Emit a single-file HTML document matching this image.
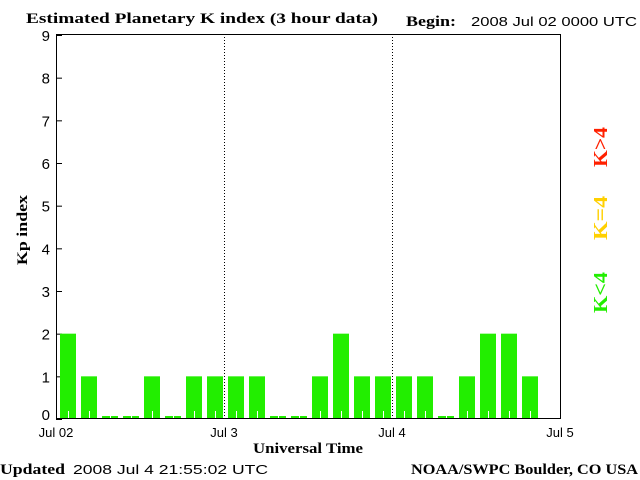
<!DOCTYPE html>
<html><head><meta charset="utf-8"><style>
body{margin:0;background:#fff;}
svg{display:block;}
.serif{font-family:"Liberation Serif",serif;font-weight:bold;}
.sans{font-family:"Liberation Sans",sans-serif;}
</style></head><body>
<svg id="chart" width="640" height="480" xmlns="http://www.w3.org/2000/svg">
<rect width="640" height="480" fill="#fff"/>
<text x="26" y="23" class="serif" font-size="15" textLength="352" lengthAdjust="spacingAndGlyphs">Estimated Planetary K index (3 hour data)</text>
<text x="406" y="26" class="serif" font-size="15" textLength="50" lengthAdjust="spacingAndGlyphs">Begin:</text>
<text x="471" y="26" class="sans" font-size="13" textLength="166" lengthAdjust="spacingAndGlyphs">2008 Jul 02 0000 UTC</text>
<text x="0" y="474" class="serif" font-size="15" textLength="65" lengthAdjust="spacingAndGlyphs">Updated</text>
<text x="73" y="474" class="sans" font-size="13" textLength="195" lengthAdjust="spacingAndGlyphs">2008 Jul  4 21:55:02 UTC</text>
<text x="411" y="474" class="serif" font-size="15" textLength="227" lengthAdjust="spacingAndGlyphs">NOAA/SWPC Boulder, CO USA</text>
<text x="253" y="453" class="serif" font-size="15" textLength="110" lengthAdjust="spacingAndGlyphs">Universal Time</text>
<text transform="translate(27,265) rotate(-90)" class="serif" font-size="15" textLength="70" lengthAdjust="spacingAndGlyphs">Kp index</text>
<text transform="translate(607,167) rotate(-90)" class="serif" font-size="20" fill="#ff2000" textLength="40" lengthAdjust="spacingAndGlyphs">K&gt;4</text>
<text transform="translate(607,240) rotate(-90)" class="serif" font-size="20" fill="#ffd000" textLength="44" lengthAdjust="spacingAndGlyphs">K=4</text>
<text transform="translate(607,313) rotate(-90)" class="serif" font-size="20" fill="#22ee00" textLength="41" lengthAdjust="spacingAndGlyphs">K&lt;4</text>
<g id="marks"></g>
<rect x="56.5" y="34.5" width="504" height="384" fill="none" stroke="#000" stroke-width="1"/>
</svg>
<script>
const kpValues=[2,1,0,0,1,0,1,1, 1,1,0,0,1,2,1,1, 1,1,0,1,2,2,1];
const yTicks=[0,1,2,3,4,5,6,7,8,9];
const dayLabels=["Jul 02","Jul 3","Jul 4","Jul 5"];
const L=56,R=560,T=34,B=419;
const xh=h=>L+(R-L)*h/72;
const y=v=>B-(B-T-1)*v/9;
const NS="http://www.w3.org/2000/svg";
const g=document.getElementById('marks');
function mk(t,a){const e=document.createElementNS(NS,t);for(const k in a)e.setAttribute(k,a[k]);g.appendChild(e);return e;}
yTicks.forEach(v=>{
 const l=mk('line',{x1:L,x2:L+6,y1:y(v)+0.5,y2:y(v)+0.5,stroke:'#000'});
 
 
 const t=mk('text',{x:50,y:y(v)+(v===0?1:6),'text-anchor':'end','font-size':15,'font-family':'Liberation Sans, sans-serif'});
 t.textContent=v;
 
 
});
dayLabels.forEach((d,i)=>{
 const x=xh(i*24);
 const t=mk('text',{x:x,y:437,'text-anchor':'middle','font-size':13,'font-family':'Liberation Sans, sans-serif'});
 t.textContent=d;
 
 
 if(i>0&&i<3){
  const l=mk('line',{x1:x+0.5,x2:x+0.5,y1:T,y2:B,stroke:'#000','stroke-dasharray':'1,2'});
  
  
 }
});
kpValues.forEach((v,i)=>{
 const x0=xh(i*3)+4, w=16;
 const top=v===0?B-3:y(v);
 const r=mk('rect',{x:x0,y:top,width:w,height:B-top,fill:'#22ee00'});
 
 
 const m=mk('line',{x1:x0+8.5,x2:x0+8.5,y1:Math.max(top,B-8),y2:B,stroke:'#fff'});
 
 
});
</script>
</body></html>
